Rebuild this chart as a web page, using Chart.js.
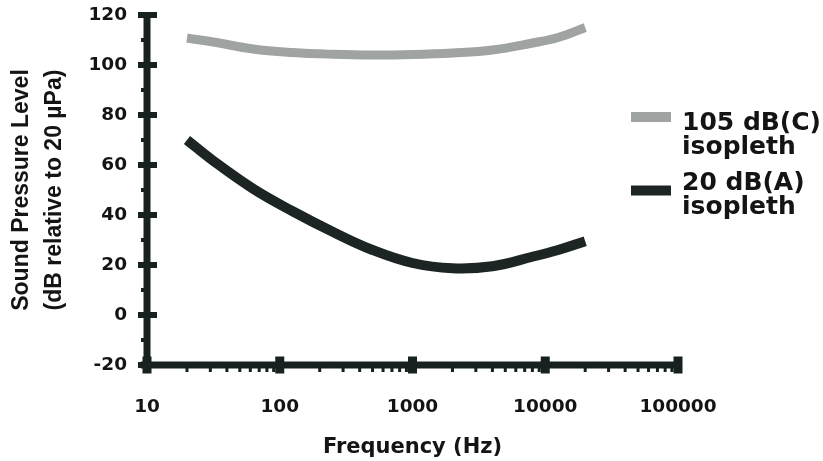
<!DOCTYPE html>
<html><head><meta charset="utf-8">
<script src="https://cdn.jsdelivr.net/npm/chart.js@4.4.0/dist/chart.umd.min.js"></script>
<style>html,body{margin:0;padding:0;background:#fff;}canvas{display:block;}</style>
</head><body>
<canvas id="c" width="823" height="461"></canvas>
<script>
// ---- data ----
const frequencies105C = [20, 31.5, 63, 125, 250, 500, 1000, 2000, 4000, 8000, 12500, 20000];
const spl105C = [110.8, 109.2, 106.4, 105, 104.3, 104, 104.2, 104.8, 106, 108.8, 111, 115];
const frequencies20A = [20, 31.5, 63, 125, 250, 500, 1000, 2000, 4000, 8000, 12500, 20000];
const spl20A = [70, 61.7, 50.5, 41.5, 33.3, 26, 20.8, 18.7, 19.5, 23.3, 26, 29.5];
const seriesNames = ['105 dB(C) isopleth', '20 dB(A) isopleth'];
const legendLines = [['105 dB(C)', 'isopleth'], ['20 dB(A)', 'isopleth']];
const xTickValues = [10, 100, 1000, 10000, 100000];
const yTickValues = [-20, 0, 20, 40, 60, 80, 100, 120];
const xTitle = 'Frequency (Hz)';
const yTitle = ['Sound Pressure Level', '(dB relative to 20 µPa)'];

const TEXT = '#141414';
const AXIS = '#172120';
const GRAY = '#9fa3a2';
const DARK = '#1c2523';

const axisPlugin = {
  id: 'thickAxes',
  beforeDatasetsDraw(chart) {
    const {ctx} = chart;
    const x = chart.scales.x, y = chart.scales.y;
    const ax = x.getPixelForValue(xTickValues[0]);
    const xr = x.getPixelForValue(xTickValues[xTickValues.length - 1]);
    const ay = y.getPixelForValue(yTickValues[0]);
    const yt = y.getPixelForValue(yTickValues[yTickValues.length - 1]);
    ctx.save();
    ctx.fillStyle = AXIS;
    ctx.fillRect(ax - 3.5, yt - 2, 7, ay - yt + 5);
    ctx.fillRect(ax - 6, ay - 3.5, xr - ax + 10, 7);
    yTickValues.forEach(v => { const py = y.getPixelForValue(v); ctx.fillRect(ax - 9, py - 3, 19, 6); });
    for (let i = 0; i < yTickValues.length - 1; i++) {
      const py = y.getPixelForValue((yTickValues[i] + yTickValues[i + 1]) / 2);
      ctx.fillRect(ax - 6, py - 2, 4, 4);
    }
    xTickValues.forEach(v => { const px = x.getPixelForValue(v); ctx.fillRect(px - 4.5, ay - 8.5, 9, 17); });
    for (let i = 0; i < xTickValues.length - 1; i++) {
      for (let m = 2; m <= 9; m++) {
        const px = x.getPixelForValue(xTickValues[i] * m);
        ctx.fillRect(px - 1.5, ay + 2, 3, 5);
      }
    }
    ctx.restore();
  }
};

const legendPlugin = {
  id: 'sideLegend',
  afterDraw(chart) {
    const {ctx} = chart;
    const baselines = [130, 190];
    const swatchY = [117, 190.5];
    ctx.save();
    ctx.font = 'bold 25px "DejaVu Sans"';
    ctx.textAlign = 'left';
    ctx.textBaseline = 'alphabetic';
    chart.data.datasets.forEach((ds, i) => {
      ctx.fillStyle = ds.borderColor;
      ctx.fillRect(631, swatchY[i] - 5, 40, 10);
      ctx.fillStyle = TEXT;
      legendLines[i].forEach((line, j) => ctx.fillText(line, 682, baselines[i] + j * 23.5));
    });
    ctx.restore();
  }
};

const tickFont = {family: 'DejaVu Sans', weight: 'bold', size: 18.5};
const hiddenGrid = (len) => ({display: true, drawOnChartArea: false, drawTicks: true, tickLength: len, color: 'rgba(0,0,0,0)'});

new Chart(document.getElementById('c'), {
  type: 'line',
  data: {
    datasets: [
      {
        label: seriesNames[0],
        data: frequencies105C.map((f, i) => ({x: f, y: spl105C[i]})),
        borderColor: GRAY, borderWidth: 9, borderCapStyle: 'butt',
        tension: 0.4, pointRadius: 0, fill: false
      },
      {
        label: seriesNames[1],
        data: frequencies20A.map((f, i) => ({x: f, y: spl20A[i]})),
        borderColor: DARK, borderWidth: 10, borderCapStyle: 'butt',
        tension: 0.4, pointRadius: 0, fill: false
      }
    ]
  },
  options: {
    responsive: false,
    animation: false,
    layout: {padding: {top: 15, right: 145, bottom: 0, left: 0}},
    plugins: {legend: {display: false}, tooltip: {enabled: false}},
    scales: {
      x: {
        type: 'logarithmic',
        min: xTickValues[0], max: xTickValues[xTickValues.length - 1],
        grid: hiddenGrid(29), border: {display: false},
        afterBuildTicks: s => { s.ticks = xTickValues.map(v => ({value: v})); },
        afterFit: s => { s.height = 96; },
        ticks: {autoSkip: false, maxRotation: 0, padding: 2, color: TEXT, font: tickFont,
                callback: v => String(v)},
        title: {display: true, text: xTitle, color: TEXT,
                font: {family: 'DejaVu Sans', weight: 'bold', size: 21}, padding: {top: 0, bottom: 1}}
      },
      y: {
        type: 'linear',
        min: yTickValues[0], max: yTickValues[yTickValues.length - 1],
        grid: hiddenGrid(18), border: {display: false},
        afterBuildTicks: s => { s.ticks = yTickValues.map(v => ({value: v})); },
        afterFit: s => { s.width = 147; },
        ticks: {padding: 2, color: TEXT, font: tickFont},
        title: {display: true, text: yTitle, color: TEXT,
                font: {family: 'Liberation Sans', weight: 'bold', size: 23, lineHeight: 1.43},
                padding: {top: 5.5, bottom: 0}}
      }
    }
  },
  plugins: [axisPlugin, legendPlugin]
});
</script>
</body></html>
